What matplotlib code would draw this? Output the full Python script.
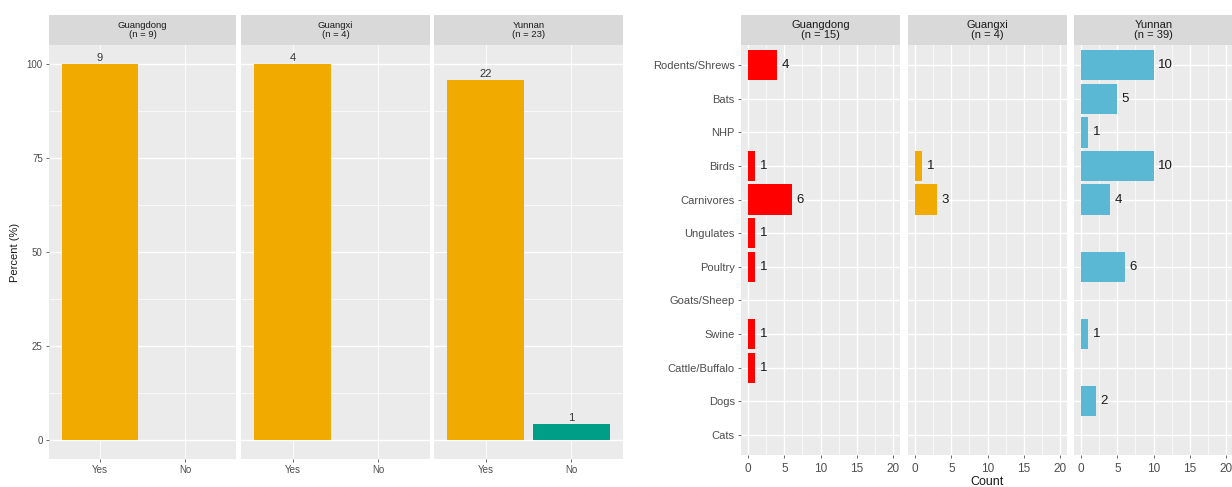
import matplotlib
matplotlib.use("Agg")
import matplotlib.pyplot as plt
from matplotlib.ticker import MultipleLocator

plt.rcParams['font.family'] = ['Liberation Sans', 'DejaVu Sans']

W, H = 1232, 487
DPI = 100

# ---- data: left chart ----
provinces = ["Guangdong", "Guangxi", "Yunnan"]
left_n = [9, 4, 23]
answers = ["Yes", "No"]
left_counts = {"Guangdong": [9, 0], "Guangxi": [4, 0], "Yunnan": [22, 1]}
left_percent = {"Guangdong": [100.0, 0.0], "Guangxi": [100.0, 0.0], "Yunnan": [95.65, 4.35]}
left_colors = ["#F0AA00", "#009E86"]

# ---- data: right chart ----
right_n = [15, 4, 39]
hosts = ["Rodents/Shrews", "Bats", "NHP", "Birds", "Carnivores", "Ungulates",
         "Poultry", "Goats/Sheep", "Swine", "Cattle/Buffalo", "Dogs", "Cats"]
guangdong_counts = [4, 0, 0, 1, 6, 1, 1, 0, 1, 1, 0, 0]
guangxi_counts = [0, 0, 0, 1, 3, 0, 0, 0, 0, 0, 0, 0]
yunnan_counts = [10, 5, 1, 10, 4, 0, 6, 0, 1, 0, 2, 0]
right_counts = [guangdong_counts, guangxi_counts, yunnan_counts]
right_colors = ["#FF0000", "#F0AA00", "#5BB8D4"]
count_ticks = [0, 5, 10, 15, 20]

PANEL_BG = "#EBEBEB"
STRIP_BG = "#D9D9D9"
TICK_C = "#4D4D4D"

fig = plt.figure(figsize=(W / DPI, H / DPI), dpi=DPI)
fig.patch.set_facecolor("white")


def ax_px(x0, y0, x1, y1):
    return fig.add_axes([x0 / W, 1 - y1 / H, (x1 - x0) / W, (y1 - y0) / H])


def strip(x0, x1, y0, y1, label, fs):
    s = ax_px(x0, y0, x1, y1)
    s.set_facecolor(STRIP_BG)
    for sp in s.spines.values():
        sp.set_visible(False)
    s.set_xticks([]); s.set_yticks([])
    s.text(0.5, 0.5, label, ha="center", va="center", fontsize=fs,
           color="#1A1A1A", linespacing=0.95, transform=s.transAxes)


def style(ax):
    ax.set_facecolor(PANEL_BG)
    for sp in ax.spines.values():
        sp.set_visible(False)
    ax.set_axisbelow(True)
    ax.grid(which="major", color="white", linewidth=1.0)
    ax.grid(which="minor", color="white", linewidth=0.5)
    ax.tick_params(which="major", length=2.5, color=TICK_C, width=0.6,
                   labelcolor=TICK_C, pad=2)
    ax.tick_params(which="minor", length=0)


# ---- left chart ----
left_x = [(49, 236), (241, 430), (434, 623)]
top, strip_b, bottom = 15, 45, 459
for i, p in enumerate(provinces):
    x0, x1 = left_x[i]
    strip(x0, x1, top, strip_b, f"{p}\n(n = {left_n[i]})", 6.8)
    ax = ax_px(x0, strip_b, x1, bottom)
    style(ax)
    pos = list(range(len(answers)))
    vals = left_percent[p]
    ax.bar(pos, vals, width=0.9, color=left_colors, zorder=2)
    for j, v in enumerate(vals):
        c = left_counts[p][j]
        if c > 0:
            ax.text(pos[j], v + 0.2, str(c), ha="center", va="bottom", fontsize=8,
                    color="#333333")
    ax.set_xlim(-0.6, 1.6)
    ax.set_ylim(-5, 105)
    ax.set_xticks(pos)
    ax.set_xticklabels(answers, fontsize=7)
    ax.yaxis.set_major_locator(MultipleLocator(25))
    ax.yaxis.set_minor_locator(MultipleLocator(12.5))
    ax.grid(which="major", axis="x", color="white", linewidth=0.6)
    if i == 0:
        ax.tick_params(axis="y", labelsize=7)
        ax.set_ylabel("Percent (%)", fontsize=8, color="#1A1A1A", labelpad=5)
    else:
        ax.tick_params(axis="y", left=False, labelleft=False)

# ---- right chart ----
right_x = [(741, 900), (908, 1067), (1074, 1233)]
rtop, rstrip_b, rbottom = 15, 45, 455
ypos = list(range(len(hosts)))
for i, p in enumerate(provinces):
    x0, x1 = right_x[i]
    strip(x0, x1, rtop, rstrip_b, f"{p}\n(n = {right_n[i]})", 8)
    ax = ax_px(x0, rstrip_b, x1, rbottom)
    style(ax)
    vals = right_counts[i]
    ax.barh(ypos, vals, height=0.9, color=right_colors[i], zorder=2)
    for j, v in enumerate(vals):
        if v > 0:
            ax.text(v + 0.6, ypos[j], str(v), ha="left", va="center",
                    fontsize=9.5, color="#1A1A1A")
    ax.set_xlim(-1, 21)
    ax.set_ylim(len(hosts) - 0.4, -0.6)
    ax.set_xticks(count_ticks)
    ax.xaxis.set_minor_locator(MultipleLocator(2.5))
    ax.set_yticks(ypos)
    ax.tick_params(axis="x", labelsize=8.5, pad=3)
    if i == 0:
        ax.set_yticklabels(hosts, fontsize=8)
    else:
        ax.tick_params(axis="y", left=False, labelleft=False)
    if i == 1:
        ax.set_xlabel("Count", fontsize=9, color="#1A1A1A", labelpad=1)

fig.savefig("out.png", dpi=DPI, facecolor="white")
